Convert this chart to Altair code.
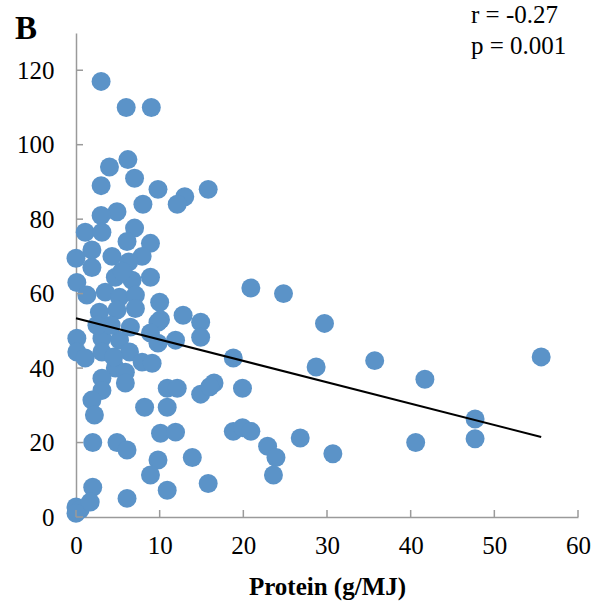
import altair as alt
import pandas as pd

# Protein intake (g/MJ) vs outcome
protein = [3, 6, 9, 4, 6.2, 7, 3, 9.8, 13, 12.1, 15.8, 8, 4.9, 3,
           1.1, 3.1, 7, 6.1, 8.9, 1.9, 0, 4.3, 7.9, 6.3, 1.9, 8.9, 0.1, 4.7, 6.7,
           1.3, 3.5, 5.2, 7.1, 10, 2.8, 4.9, 7.1, 10.1, 12.8, 14.9, 9.8, 8.9,
           11.9, 14.9, 9.8, 18.8, 20.9, 24.8, 29.7, 28.7, 35.7, 41.7, 55.6,
           47.7, 47.7, 40.6, 26.8, 30.7,
           0.1, 0.1, 1.1, 3.1, 5.2, 3.1, 6.4, 7.9, 9.1, 4.7, 5.9, 3.1, 5.9, 3.1,
           1.9, 2.2, 8.2, 10.9, 10.9, 12.1, 14.9, 16.5, 16, 19.9,
           10.1, 11.9, 18.8, 19.9, 20.9, 22.9, 23.9, 23.6, 2, 4.9, 6.1, 9.8,
           13.9, 8.9, 2, 6.1, 10.9, 15.8, 0, 0.5, 1.7, 0,
           4.2, 6.5, 2.5, 4.5, 5.5]
outcome = [117, 110, 110, 94, 96, 91, 89, 88, 86, 84, 88, 84, 82, 81,
           76.5, 76.5, 77.6, 74, 73.5, 71.7, 69.5, 70, 70, 68.5, 67, 64.4, 63, 64.4, 63.6,
           59.6, 60.4, 59, 59.6, 57.7, 55, 55.6, 56, 53, 54.2, 52.3, 52.3, 49.4,
           47.5, 48.3, 46.7, 42.7, 61.5, 60, 52, 40.3, 42, 37, 43,
           26.3, 21, 20, 21.2, 17,
           48, 44.3, 42.7, 48, 47.5, 44.3, 44.3, 41.6, 41.3, 40, 38.9, 37.3, 36, 34,
           31.4, 27.4, 29.5, 34.6, 29.5, 34.6, 33, 36, 35, 34.6,
           22.5, 22.8, 23, 24, 23, 19, 16, 11.3, 20, 20, 18, 15.3,
           16, 11.3, 8, 5, 7.2, 9, 2.7, 2, 4, 1,
           51.5, 51, 51.5, 43, 66]

# regression line end points
fit_x = [0, 55.6]
fit_y = [53.4, 21.5]

x_ticks = [0, 10, 20, 30, 40, 50, 60]
y_ticks = [0, 20, 40, 60, 80, 100, 120]

W, H = 502, 484
FONT = "Liberation Serif"
AXIS_GRAY = "#9a9a9a"

df = pd.DataFrame({"protein": protein, "outcome": outcome})
fit_df = pd.DataFrame({"protein": fit_x, "outcome": fit_y})
xt_df = pd.DataFrame({"protein": x_ticks})
yt_df = pd.DataFrame({"outcome": y_ticks})

xs = alt.Scale(domain=[0, 60], nice=False, zero=False)
ys = alt.Scale(domain=[0, 130], nice=False, zero=False)

x_axis = alt.Axis(values=x_ticks, title="Protein (g/MJ)", grid=False,
                  tickSize=0, labelPadding=16, labelFontSize=25,
                  labelFont=FONT, labelColor="black",
                  titleFont=FONT, titleFontSize=25, titleFontWeight="bold",
                  titleColor="black", titlePadding=16,
                  domainColor=AXIS_GRAY, domainWidth=1.5, labelFlush=False)
y_axis = alt.Axis(values=y_ticks, title=None, grid=False,
                  tickSize=0, labelPadding=22, labelFontSize=25,
                  labelFont=FONT, labelColor="black",
                  domainColor=AXIS_GRAY, domainWidth=1.5, labelFlush=False)

X = alt.X("protein:Q", scale=xs, axis=x_axis, title="Protein (g/MJ)")
Y = alt.Y("outcome:Q", scale=ys, axis=y_axis, title=None)

points = alt.Chart(df).mark_circle(size=360, color="#5B93C8", opacity=1).encode(x=X, y=Y)

fit = alt.Chart(fit_df).mark_line(color="black", strokeWidth=2).encode(x=X, y=Y)

xticks = alt.Chart(xt_df).mark_rule(color=AXIS_GRAY, strokeWidth=1.5).encode(
    x=X, y=alt.value(H), y2=alt.value(H - 7))
yticks = alt.Chart(yt_df).mark_rule(color=AXIS_GRAY, strokeWidth=1.5).encode(
    y=Y, x=alt.value(0), x2=alt.value(7))

label_b = alt.Chart(pd.DataFrame({"t": ["B"]})).mark_text(
    font=FONT, fontSize=33, fontWeight="bold", align="left", baseline="alphabetic",
    color="black").encode(text="t:N", x=alt.value(-61), y=alt.value(6))

stat_r = alt.Chart(pd.DataFrame({"t": ["r = -0.27"]})).mark_text(
    font=FONT, fontSize=25, align="left", baseline="alphabetic", color="black"
).encode(text="t:N", x=alt.value(395), y=alt.value(-10))

stat_p = alt.Chart(pd.DataFrame({"t": ["p = 0.001"]})).mark_text(
    font=FONT, fontSize=25, align="left", baseline="alphabetic", color="black"
).encode(text="t:N", x=alt.value(395), y=alt.value(21))

chart = alt.layer(points, xticks, yticks, fit, label_b, stat_r, stat_p).properties(
    width=W, height=H,
    autosize=alt.AutoSizeParams(type="none"),
    padding={"left": 76, "top": 33, "right": 18, "bottom": 98},
).configure_view(stroke=None)

chart.save("out.html", embed_options={"renderer": "svg", "actions": False})
